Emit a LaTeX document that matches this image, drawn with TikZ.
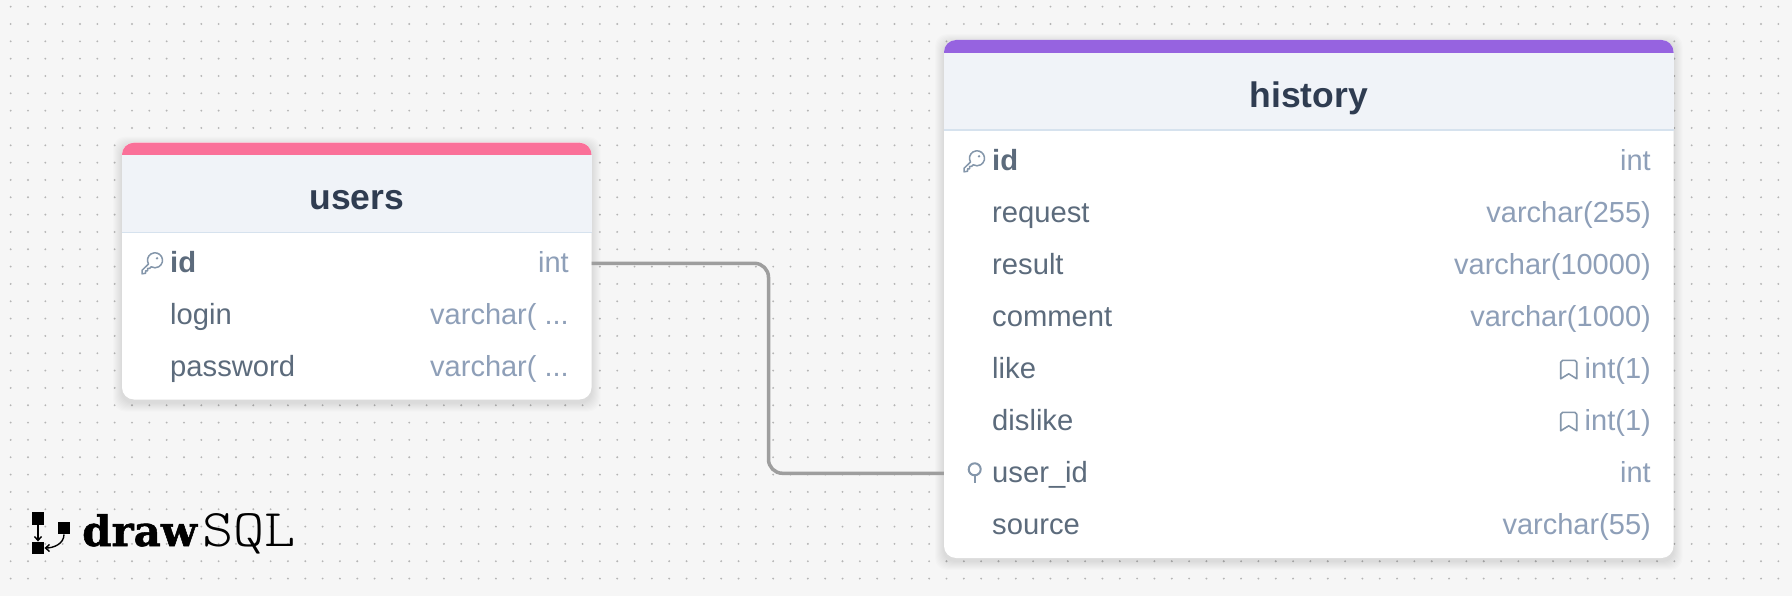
\documentclass[tikz,border=0pt]{standalone}
\usepackage{fontspec}
\setmainfont{Liberation Sans}
\newfontfamily\logobold{DejaVu Serif Bold}[FakeBold=1.2]
\newfontfamily\logolight{Latin Modern Mono Light}
\usetikzlibrary{arrows.meta}

\definecolor{canvasgray}{HTML}{F6F6F6}
\definecolor{dotgray}{HTML}{B5B5B5}
\definecolor{headfill}{HTML}{F0F3F8}
\definecolor{headline}{HTML}{D6E2EE}
\definecolor{titleink}{HTML}{2F3C51}
\definecolor{fieldink}{HTML}{5C6B7C}
\definecolor{typeink}{HTML}{8E9FB8}
\definecolor{iconink}{HTML}{8496AA}
\definecolor{usersbar}{HTML}{FA7099}
\definecolor{historybar}{HTML}{9663E0}
\definecolor{relgray}{HTML}{9E9E9E}

\tikzset{
  tablebody/.style={fill=white, rounded corners=12pt, inner sep=0pt, minimum width=#1},
  tablebar/.style={rounded corners=12pt, inner sep=0pt, minimum height=30pt, minimum width=#1},
  tablehead/.style={fill=headfill, inner sep=0pt, minimum height=77pt, minimum width=#1,
    text height=35pt, text depth=3pt,
    text=titleink, font=\fontsize{35.5}{40}\selectfont\bfseries},
  fieldname/.style={anchor=west, inner sep=0pt, text height=22.8pt, text depth=4pt,
    text=fieldink, font=\fontsize{29.2}{34}\selectfont},
  keyname/.style={fieldname, font=\fontsize{29.2}{34}\selectfont\bfseries},
  fieldtype/.style={anchor=east, inner sep=0pt, text height=22.8pt, text depth=4pt,
    text=typeink, font=\fontsize{29}{34}\selectfont},
  relline/.style={draw=relgray, line width=3.5pt, rounded corners=14pt},
  logobox/.style={fill=black, inner sep=0pt, minimum size=12.5pt},
  logoarrow/.style={draw=black, line width=1.4pt, -{Straight Barb[length=4pt,width=7pt]}},
  keyicon/.pic={
    \draw [iconink, line width=1.5pt, line join=round]
      (-3.5,0.75) arc [start angle=150, end angle=480, radius=7.5]
      -- (-2.5,5.2) -- (-4.5,5.2) -- (-4.5,7.5) -- (-6.5,7.5) -- (-6.5,10) -- (-10,10.5) -- (-10,7) -- cycle;
    \fill [iconink] (5,-5) circle (1.3);
  },
  pinicon/.pic={
    \draw [iconink, line width=2pt] (0,-4) circle (6);
    \draw [iconink, line width=2pt] (0,2) -- (0,10);
  },
  bookmarkicon/.pic={
    \draw [iconink, line width=1.6pt, line join=round]
      (-8,9.5) -- (-8,-7) to [out=-90,in=180] (-6,-9) -- (6,-9) to [out=0,in=-90] (8,-7) -- (8,9.5) -- (0,4.5) -- cycle;
  },
}

\newcommand{\softshadow}[4]{
  \foreach \s in {1,...,9}
    \fill [black, opacity=0.012, rounded corners=12pt] (#1-\s,#2-\s+3) rectangle (#3+\s,#4+\s+3);
}

\begin{document}
\begin{tikzpicture}[x=1pt,y=-1pt]

   \fill [canvasgray] (0,0) rectangle (1792,596);
   \useasboundingbox (0,0) rectangle (1792,596);

   % dotted canvas
   \foreach \i in {0,...,102} { \foreach \j in {0,...,33} {
      \fill [dotgray] (10.67+17.33*\i,6.67+17.33*\j) circle (1.05);
   } }

   \softshadow{122}{142.7}{591.5}{399.5}
   \softshadow{944}{40}{1673.5}{558}

   % users
   \node (usersBody) at (356.75,271) [tablebody=469.5pt, minimum height=257pt] {};
   \node (usersBar) at (356.75,157.7) [tablebar=469.5pt, fill=usersbar] {};
   \node (usersHead) at (356.75,194) [tablehead=469.5pt] {users};
   \draw [headline, line width=1.5pt] (usersHead.south west) -- (usersHead.south east);

   \pic at (152,263.3) {keyicon};
   \node (usersId) at (170,263.3) [keyname] {id};
   \node (usersIdType) at (569,263.3) [fieldtype] {int};
   \node (usersLogin) at (170,315.3) [fieldname] {login};
   \node (usersLoginType) at (569,315.3) [fieldtype] {varchar( ...};
   \node (usersPassword) at (170,367.3) [fieldname] {password};
   \node (usersPasswordType) at (569,367.3) [fieldtype] {varchar( ...};

   % history
   \node (historyBody) at (1308.75,299) [tablebody=729.5pt, minimum height=518pt] {};
   \node (historyBar) at (1308.75,55) [tablebar=729.5pt, fill=historybar] {};
   \node (historyHead) at (1308.75,91.5) [tablehead=729.5pt] {history};
   \draw [headline, line width=1.5pt] (historyHead.south west) -- (historyHead.south east);

   \pic at (974,161.3) {keyicon};
   \node (historyId) at (992,161.3) [keyname] {id};
   \node (historyIdType) at (1651,161.3) [fieldtype] {int};
   \node (historyRequest) at (992,213.3) [fieldname] {request};
   \node (historyRequestType) at (1651,213.3) [fieldtype] {varchar(255)};
   \node (historyResult) at (992,265.3) [fieldname] {result};
   \node (historyResultType) at (1651,265.3) [fieldtype] {varchar(10000)};
   \node (historyComment) at (992,317.3) [fieldname] {comment};
   \node (historyCommentType) at (1651,317.3) [fieldtype] {varchar(1000)};
   \node (historyLike) at (992,369.3) [fieldname] {like};
   \node (historyLikeType) at (1651,369.3) [fieldtype] {int(1)};
   \pic at (1568.7,369.3) {bookmarkicon};
   \node (historyDislike) at (992,421.3) [fieldname] {dislike};
   \node (historyDislikeType) at (1651,421.3) [fieldtype] {int(1)};
   \pic at (1568.7,421.3) {bookmarkicon};
   \pic at (974.7,473.3) {pinicon};
   \node (historyUserId) at (992,473.3) [fieldname] {user\_id};
   \node (historyUserIdType) at (1651,473.3) [fieldtype] {int};
   \node (historySource) at (992,525.3) [fieldname] {source};
   \node (historySourceType) at (1651,525.3) [fieldtype] {varchar(55)};

   % relation
   \coordinate (relElbow) at (768.5,370);
   \draw [relline] (usersBody.east |- usersIdType) -| (relElbow) |- (historyBody.west |- historyUserIdType);

   % logo
   \node (logoTop) at (38,518.5) [logobox] {};
   \node (logoRight) at (64,528) [logobox] {};
   \node (logoBottom) at (38,548) [logobox] {};
   \node (logoDraw) at (82,546) [anchor=base west, inner sep=0pt, font=\logobold\fontsize{42}{48}\selectfont] {draw};
   \node (logoSql) at (202,546) [anchor=base west, inner sep=0pt, xscale=1.12, font=\logolight\fontsize{53}{58}\selectfont] {SQL};
   \draw [logoarrow] (logoTop) -- (logoBottom);
   \draw [logoarrow] (logoRight) to [out=-90,in=0] (logoBottom.east);

\end{tikzpicture}
\end{document}
